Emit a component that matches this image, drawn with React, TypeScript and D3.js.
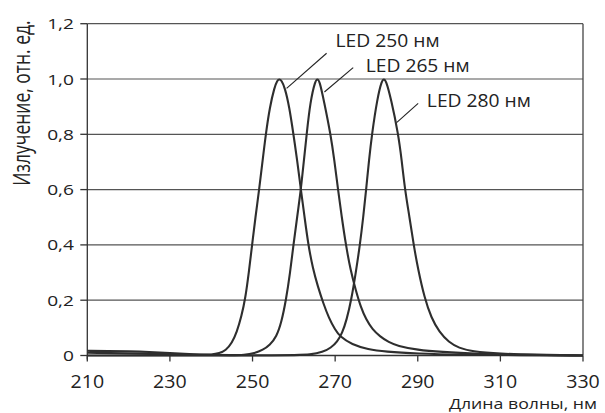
import React from "react";
import * as d3 from "d3";

const xTicks = [210, 230, 250, 270, 290, 310, 330];
const yTicks = [0, 0.2, 0.4, 0.6, 0.8, 1.0, 1.2];
const yTickLabels = ["0", "0,2", "0,4", "0,6", "0,8", "1,0", "1,2"];

const nm250 = [210, 215, 220, 225, 230, 235, 238, 240, 242, 243.5, 245, 246.2, 247.3, 248.3, 249.1, 249.9, 250.7, 251.6, 252.4, 253.2, 254.2, 255.3, 256, 256.5, 257, 257.8, 258.9, 259.9, 260.8, 261.7, 262.6, 263.5, 264.6, 265.8, 267.1, 268.5, 270, 271.2, 274, 278, 282, 290, 300, 315, 330];
const val250 = [0.017, 0.016, 0.015, 0.013, 0.009, 0.005, 0.003, 0.003, 0.008, 0.018, 0.045, 0.085, 0.14, 0.21, 0.3, 0.4, 0.5, 0.6, 0.7, 0.8, 0.9, 0.97, 0.995, 1.0, 0.995, 0.97, 0.9, 0.8, 0.707, 0.6, 0.5, 0.4, 0.315, 0.25, 0.19, 0.135, 0.093, 0.068, 0.04, 0.022, 0.014, 0.007, 0.003, 0.001, 0];

const nm265 = [210, 225, 240, 245, 248, 250.5, 252.5, 254.2, 255.8, 257, 258.1, 259.1, 259.9, 260.8, 261.7, 262.4, 263.1, 264.0, 265.2, 265.7, 266.2, 267.3, 268.9, 269.8, 270.7, 271.6, 272.6, 273.7, 275.0, 276.2, 277.5, 279, 280.9, 283, 285, 290, 295.4, 305, 315, 330];
const val265 = [0.01, 0.006, 0.002, 0.001, 0.002, 0.008, 0.02, 0.038, 0.068, 0.12, 0.2, 0.3, 0.4, 0.5, 0.6, 0.7, 0.8, 0.92, 0.995, 1.0, 0.995, 0.92, 0.8, 0.707, 0.6, 0.5, 0.4, 0.31, 0.235, 0.175, 0.13, 0.095, 0.068, 0.048, 0.035, 0.02, 0.013, 0.006, 0.002, 0];

const nm280 = [210, 260, 264, 267, 269, 270.5, 271.7, 272.8, 273.9, 275.0, 276.0, 276.8, 277.5, 278.2, 278.9, 280.2, 281.3, 281.8, 282.3, 283.5, 285.3, 286.1, 286.9, 288.0, 289.0, 290.1, 291.6, 293.3, 295.2, 297.5, 300, 303, 310, 318, 330];
const val280 = [0, 0, 0.003, 0.012, 0.028, 0.05, 0.08, 0.13, 0.2, 0.3, 0.4, 0.5, 0.6, 0.707, 0.8, 0.93, 0.995, 1.0, 0.995, 0.93, 0.8, 0.707, 0.6, 0.5, 0.4, 0.31, 0.21, 0.135, 0.085, 0.048, 0.027, 0.015, 0.006, 0.003, 0];

const seriesNames = ["LED 250 нм", "LED 265 нм", "LED 280 нм"];
// leader line: point on the curve and outer end (wavelength, value); label baseline start (wavelength, value)
const leaderCurvePoint = [[258.25, 0.966], [267.4, 0.953], [284.87, 0.842]];
const leaderEndPoint = [[267.93, 1.093], [274.37, 1.041], [290.1, 0.912]];
const labelPoint = [[270.1, 1.116], [277.4, 1.026], [292.2, 0.899]];

const W = 605, H = 413;
const x = d3.scaleLinear().domain([210, 330]).range([87.3, 583]);
const y = d3.scaleLinear().domain([0, 1.2]).range([355.5, 23.7]);

const FONT = "'Open Sans', sans-serif";
const TXT = "#222";

export default function App() {
  const line = d3.line<[number, number]>()
    .x(d => x(d[0]))
    .y(d => y(d[1]))
    .curve(d3.curveBasis);
  const series = [
    d3.zip(nm250, val250) as [number, number][],
    d3.zip(nm265, val265) as [number, number][],
    d3.zip(nm280, val280) as [number, number][],
  ];
  const [x0, x1] = x.range();
  const [yb, yt] = y.range();
  return (
    <svg width={W} height={H} style={{ position: "absolute", left: 0, top: 0, background: "#fff" }}>
      {yTicks.slice(1).map((t, i) => (
        <line key={"g" + i} x1={x0} x2={x1} y1={y(t)} y2={y(t)} stroke="#555" strokeWidth={1.2} />
      ))}
      <line x1={x1} x2={x1} y1={yt} y2={yb} stroke="#444" strokeWidth={1.3} />
      <line x1={x0} x2={x0} y1={yt} y2={yb + 4} stroke="#333" strokeWidth={1.3} />
      <line x1={x0} x2={x1} y1={yb} y2={yb} stroke="#333" strokeWidth={1.3} />
      {yTicks.map((t, i) => (
        <g key={"yt" + i}>
          <line x1={x0 - 7} x2={x0} y1={y(t)} y2={y(t)} stroke="#333" strokeWidth={1.3} />
          <text transform={`translate(74,${y(t) + 5.5}) scale(1.32,1)`} textAnchor="end" fontFamily={FONT} fontSize={14.5} fill={TXT}>{yTickLabels[i]}</text>
        </g>
      ))}
      {xTicks.map((t, i) => (
        <g key={"xt" + i}>
          <line x1={x(t)} x2={x(t)} y1={yb} y2={yb + 6} stroke="#333" strokeWidth={1.3} />
          <text transform={`translate(${x(t)},388) scale(1.12,1)`} textAnchor="middle" fontFamily={FONT} fontSize={17.5} fill={TXT}>{t}</text>
        </g>
      ))}
      <text transform="translate(597,408.8) scale(1.18,1)" textAnchor="end" fontFamily={FONT} fontSize={15} fill={TXT}>Длина волны, нм</text>
      <text transform="translate(30,103) rotate(-90) scale(1,1.35)" textAnchor="middle" fontFamily={FONT} fontSize={17.5} fill={TXT}>Излучение, отн. ед.</text>
      {series.map((s, i) => (
        <path key={"s" + i} d={line(s) || ""} fill="none" stroke="#2e2e2e" strokeWidth={2.1} strokeLinejoin="round" />
      ))}
      {seriesNames.map((n, i) => (
        <g key={"a" + i}>
          <line x1={x(leaderCurvePoint[i][0])} y1={y(leaderCurvePoint[i][1])} x2={x(leaderEndPoint[i][0])} y2={y(leaderEndPoint[i][1])} stroke="#222" strokeWidth={1.1} />
          <text transform={`translate(${x(labelPoint[i][0])},${y(labelPoint[i][1])}) scale(1.1,1)`} fontFamily={FONT} fontSize={17.5} fill={TXT}>{n}</text>
        </g>
      ))}
    </svg>
  );
}
